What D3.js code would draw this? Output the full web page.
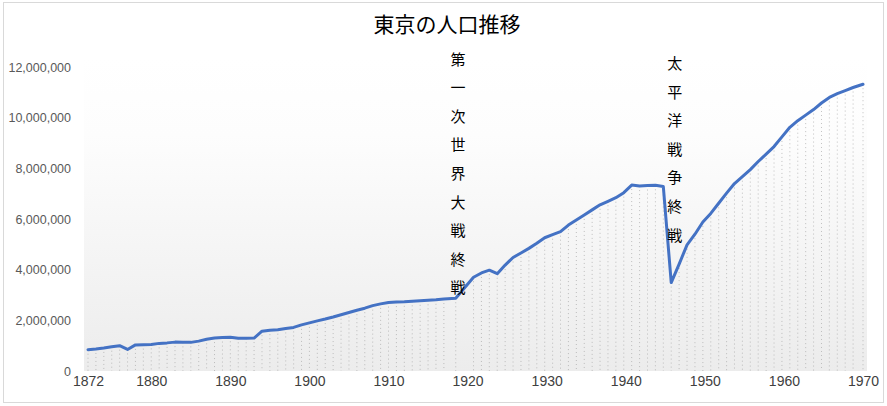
<!DOCTYPE html>
<html><head><meta charset="utf-8">
<script src="https://cdn.jsdelivr.net/npm/d3@7"></script>
<style>
html,body{margin:0;padding:0;background:#fff;}
svg{display:block;}
</style></head>
<body>
<svg id="chart" width="887" height="406"></svg>
<script>
const title = "東京の人口推移";
const xTicks = [1872,1880,1890,1900,1910,1920,1930,1940,1950,1960,1970];
const yTicks = [0,2000000,4000000,6000000,8000000,10000000,12000000];
const annotations = [
  {year:1918.8, text:"第一次世界大戦終戦"},
  {year:1946.2, text:"太平洋戦争終戦"}
];
const years = [
  1872,1873,1874,1875,1876,1877,1878,1879,1880,1881,1882,1883,1884,1885,1886,1887,1888,1889,
  1890,1891,1892,1893,1894,1895,1896,1897,1898,1899,1900,1901,1902,1903,1904,1905,1906,1907,
  1908,1909,1910,1911,1912,1913,1914,1915,1916,1917,1918.5,
  1920.75,1921.75,1922.75,1923.75,1924.75,1925.75,1926.75,1927.75,1928.75,1929.75,
  1930.75,1931.75,1932.75,1933.75,1934.75,1935.75,1936.75,1937.75,1938.75,1939.75,
  1940.75,1941.75,1942.75,1943.75,1944.75,1945.75,1946.75,1947.75,1948.75,1949.75,
  1950.75,1951.75,1952.75,1953.75,1954.75,1955.75,1956.75,1957.75,1958.75,1959.75,
  1960.75,1961.75,1962.75,1963.75,1964.75,1965.75,1966.75,1967.75,1968.75,1970
];
const population = [
  840000,870000,910000,960000,1000000,850000,1030000,1040000,1050000,1090000,1110000,1140000,1130000,1130000,1180000,1250000,1300000,1320000,
  1330000,1290000,1290000,1300000,1570000,1610000,1630000,1680000,1720000,1820000,1900000,1980000,2050000,2130000,2220000,2310000,2400000,2480000,
  2580000,2650000,2700000,2720000,2730000,2750000,2770000,2790000,2810000,2840000,2870000,
  3700000,3870000,3980000,3840000,4180000,4480000,4660000,4840000,5040000,5260000,
  5380000,5500000,5760000,5960000,6160000,6360000,6560000,6700000,6840000,7040000,
  7340000,7300000,7320000,7330000,7280000,3490000,4220000,4980000,5400000,5880000,
  6220000,6620000,7020000,7400000,7670000,7950000,8270000,8560000,8860000,9240000,
  9620000,9880000,10100000,10320000,10580000,10800000,10950000,11070000,11190000,11320000
];

const data = years.map((y,i)=>({year:y, value:population[i]}));
const svg = d3.select("#chart");

const x = d3.scaleLinear().domain([1872,1970]).range([88,863]);
const y = d3.scaleLinear().domain([0,12000000]).range([371,67]);

// outer border
svg.append("rect").attr("x",3.5).attr("y",2.5).attr("width",880).attr("height",400)
  .attr("fill","#fff").attr("stroke","#d9d9d9").attr("stroke-width",1);

// plot-area gradient
const defs = svg.append("defs");
const grad = defs.append("linearGradient").attr("id","pa").attr("x1",0).attr("y1",0).attr("x2",0).attr("y2",1);
grad.append("stop").attr("offset","0%").attr("stop-color","#ffffff");
grad.append("stop").attr("offset","25%").attr("stop-color","#fdfdfd");
grad.append("stop").attr("offset","100%").attr("stop-color","#ececec");
svg.append("rect").attr("x",84).attr("y",y(12000000)-10).attr("width",783)
  .attr("height",y(0)-y(12000000)+10).attr("fill","url(#pa)");

// drop lines
svg.append("g").selectAll("line").data(data).join("line")
  .attr("x1",d=>x(d.year)).attr("x2",d=>x(d.year))
  .attr("y1",d=>y(d.value)).attr("y2",y(0))
  .attr("stroke","#a6a6a6").attr("stroke-width",0.7).attr("stroke-dasharray","1,3");

// y axis
const yAxis = svg.append("g").attr("transform","translate(71,0)")
  .call(d3.axisLeft(y).tickValues(yTicks).tickFormat(d3.format(",")).tickSize(0).tickPadding(0));
yAxis.select(".domain").remove();
yAxis.selectAll("text").attr("font-family","'Liberation Sans', Arial, sans-serif")
  .attr("font-size","12.5px").attr("fill","#595959");

// x axis
const xAxis = svg.append("g").attr("transform",`translate(0,${y(0)})`)
  .call(d3.axisBottom(x).tickValues(xTicks).tickFormat(d3.format("d")).tickSize(0).tickPadding(5));
xAxis.select(".domain").remove();
xAxis.selectAll("text").attr("font-family","'Liberation Sans', Arial, sans-serif")
  .attr("font-size","14px").attr("fill","#404040");

// line
svg.append("path").datum(data)
  .attr("d", d3.line().x(d=>x(d.year)).y(d=>y(d.value)))
  .attr("fill","none").attr("stroke","#4472C4").attr("stroke-width",3)
  .attr("stroke-linejoin","round").attr("stroke-linecap","round");

// title
svg.append("text").attr("x",447).attr("y",32).attr("text-anchor","middle")
  .attr("font-family","'Noto Sans CJK JP', sans-serif").attr("font-size","21px")
  .attr("fill","#000").text(title);

// vertical annotations
const annTop = [58, 62.5];
annotations.forEach((a,k)=>{
  const g = svg.append("g");
  Array.from(a.text).forEach((ch,i)=>{
    g.append("text").attr("x",x(a.year)).attr("y",annTop[k] + i*28.6)
      .attr("text-anchor","middle").attr("dominant-baseline","central")
      .attr("font-family","'Noto Sans CJK JP', sans-serif").attr("font-size","15px")
      .attr("fill","#000").text(ch);
  });
});
</script>
</body></html>
